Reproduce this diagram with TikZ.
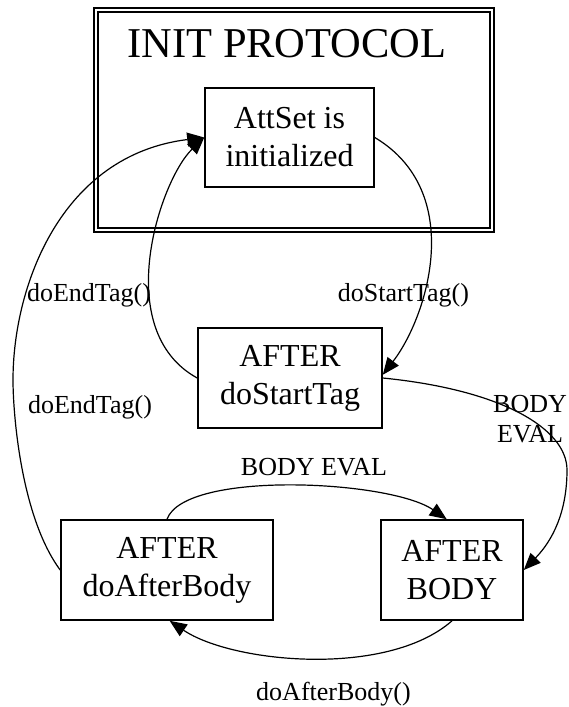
\documentclass[tikz,border=0pt]{standalone}
\usepackage{fontspec}
\setmainfont{Liberation Serif}
\usetikzlibrary{arrows.meta}
\begin{document}
\begin{tikzpicture}[x=1pt,y=-1pt,
    state/.style={draw,line width=1.6pt,inner sep=0pt,align=center,font=\fontsize{32}{38}\selectfont},
    lbl/.style={inner sep=0pt,anchor=base,font=\fontsize{26}{30}\selectfont},
    trans/.style={line width=1.2pt,-{Triangle[length=17pt,width=14pt]}}]
    \useasboundingbox (0,0) rectangle (569,707);
    \node[draw,double,double distance=2.5pt,line width=1.5pt,minimum width=396pt,minimum height=220pt] (protocol) at (294,120) {};
    \node[inner sep=0pt,anchor=base,font=\fontsize{42.5}{50}\selectfont] (title) at (287,57) {INIT PROTOCOL};
    \node[state,minimum width=169pt,minimum height=99pt] (init) at (289.5,137.5) {AttSet is\\initialized};
    \node[state,minimum width=184pt,minimum height=100pt] (start) at (290,378) {AFTER\\doStartTag};
    \node[state,minimum width=212pt,minimum height=100pt] (afterdo) at (167,570) {AFTER\\doAfterBody};
    \node[state,minimum width=142pt,minimum height=100pt] (body) at (452,570) {AFTER\\BODY};
    \coordinate (wbend) at (13,380);
    \coordinate (ebend) at (567,470);
    \draw[trans] (init.east) .. controls (466,192) and (428,316) .. (start.2);
    \draw[trans] (start.west) .. controls (110,330) and (160,180) .. (init.west);
    \draw[trans] (afterdo.west) .. controls (21,517) and (13,414) .. (wbend) .. controls (13,286) and (61,155) .. (init.west);
    \draw[trans] (start.east) .. controls (503,390) and (567,429) .. (ebend) .. controls (567,513) and (552,541) .. (body.east);
    \draw[trans] (afterdo.north) .. controls (185,470) and (390,480) .. (body.96);
    \draw[trans] (body.south) .. controls (387,678) and (232,663) .. (afterdo.-87);
    \node[lbl] (endtagin) at (89,301) {doEndTag()};
    \node[lbl] (endtagout) at (90,413) {doEndTag()};
    \node[lbl] (starttag) at (403.5,301) {doStartTag()};
    \node[lbl,anchor=center,align=center] (evalright) at (530,419.4) {BODY\\EVAL};
    \node[lbl] (evaltop) at (314,475) {BODY EVAL};
    \node[lbl] (afterbodylbl) at (333.5,700) {doAfterBody()};
\end{tikzpicture}
\end{document}
